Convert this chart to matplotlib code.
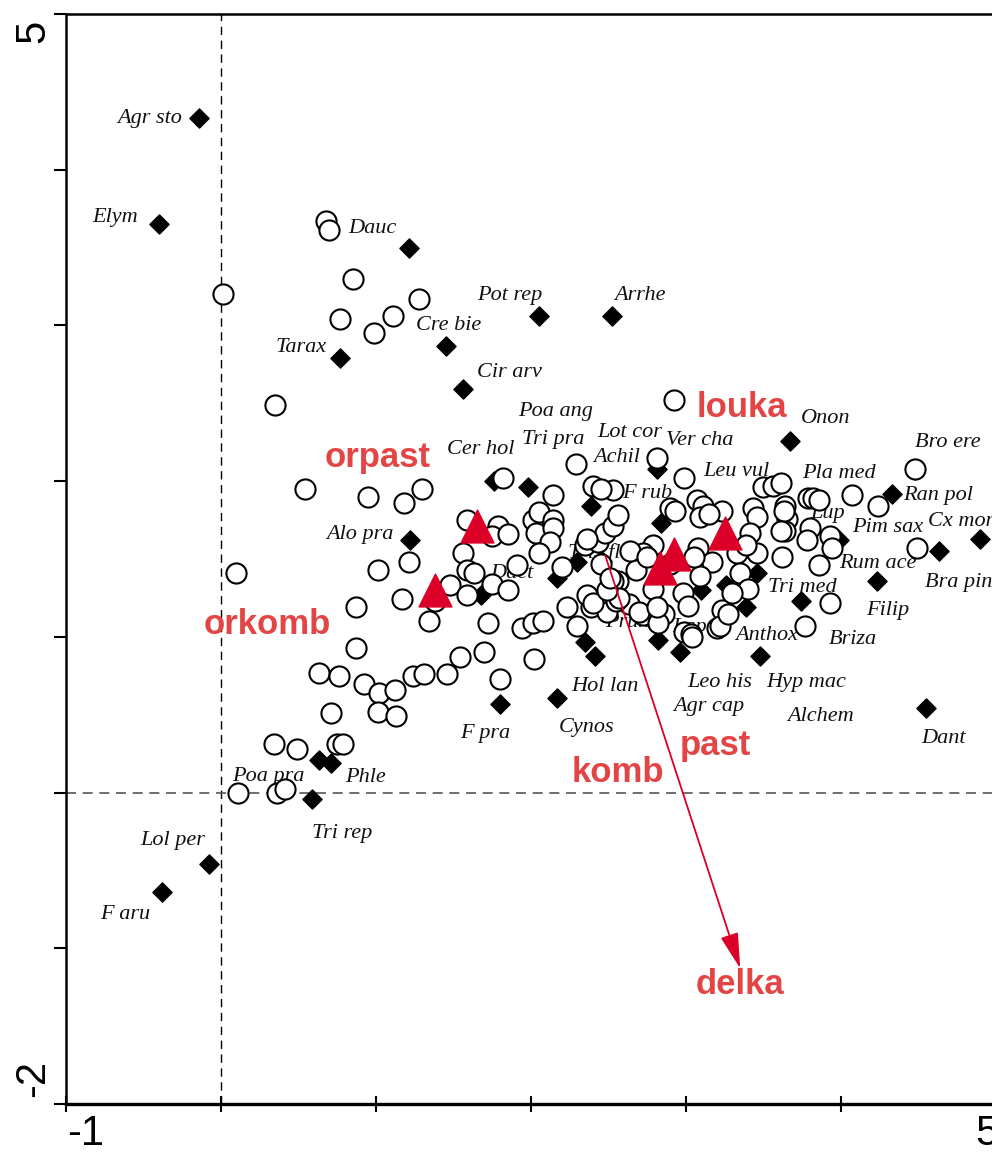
import matplotlib
matplotlib.use('Agg')
import matplotlib.pyplot as plt

# Sites (open circles)
site_x = [0.68, 0.70, 0.01, 0.85, 1.28, 0.77, 1.11, 0.99, 0.35, 2.92,
          0.54, 0.95, 1.18, 1.30, 1.82, 2.29, 2.81, 4.48, 0.10, 2.99,
          1.01, 1.21, 0.87, 1.17, 1.34, 0.87, 0.63, 0.76, 0.92, 1.02,
          1.12, 1.24, 1.31, 0.71, 1.01, 1.13, 0.34, 0.49, 0.75, 0.79,
          0.11, 0.36, 0.41, 1.46, 1.54, 1.70, 1.80, 1.94, 2.01, 2.08,
          2.02, 2.23, 2.30, 2.39, 2.49, 2.63, 2.72, 2.86, 2.99, 3.03,
          3.20, 2.14, 2.40, 2.53, 1.59, 1.79, 1.75, 1.85, 2.01, 2.05,
          2.14, 2.03, 2.14, 2.12, 2.05, 1.56, 1.59, 1.63, 1.91, 2.20,
          2.35, 2.43, 2.48, 2.53, 2.56, 1.48, 1.59, 1.75, 1.85, 1.38,
          1.72, 2.36, 2.40, 2.56, 2.55, 2.90, 3.07, 3.11, 3.09, 3.23,
          3.43, 3.46, 3.50, 3.56, 3.64, 3.65, 3.64, 3.41, 3.46, 3.62,
          3.33, 3.08, 3.17, 3.09, 2.79, 2.72, 2.68, 2.45, 2.53, 2.57,
          2.49, 2.79, 2.98, 3.01, 2.70, 2.82, 3.35, 3.40, 3.23, 3.22,
          3.27, 3.61, 3.79, 3.82, 3.86, 4.07, 4.24, 3.63, 3.61, 3.80,
          3.78, 3.93, 3.94, 3.86, 4.49, 3.93, 3.77, 2.81, 3.04, 2.64,
          2.75, 2.51, 2.90, 3.05, 3.30, 2.93, 3.15, 3.39, 2.36, 2.45]
site_y = [3.67, 3.61, 3.20, 3.30, 3.17, 3.04, 3.06, 2.95, 2.49, 2.52,
          1.95, 1.90, 1.86, 1.95, 2.02, 2.11, 2.15, 2.08, 1.41, 2.02,
          1.43, 1.48, 1.19, 1.24, 1.10, 0.93, 0.77, 0.75, 0.70, 0.64,
          0.66, 0.75, 0.76, 0.51, 0.52, 0.49, 0.31, 0.28, 0.31, 0.31,
          0.00, 0.00, 0.02, 0.76, 0.87, 0.90, 0.73, 1.06, 1.09, 1.10,
          0.86, 1.19, 1.07, 1.19, 1.16, 1.21, 1.14, 1.15, 1.03, 1.02,
          1.06, 1.91, 1.97, 1.94, 1.75, 1.71, 1.65, 1.66, 1.75, 1.80,
          1.75, 1.67, 1.70, 1.61, 1.54, 1.54, 1.43, 1.41, 1.46, 1.45,
          1.59, 1.61, 1.67, 1.71, 1.78, 1.33, 1.27, 1.34, 1.30, 1.23,
          1.09, 1.27, 1.22, 1.36, 1.23, 1.83, 1.88, 1.84, 1.77, 1.81,
          1.83, 1.77, 1.96, 1.97, 1.84, 1.76, 1.68, 1.67, 1.54, 1.51,
          1.54, 1.57, 1.48, 1.39, 1.59, 1.54, 1.43, 1.47, 1.36, 1.25,
          1.30, 1.31, 1.28, 1.20, 1.16, 1.09, 1.41, 1.31, 1.17, 1.07,
          1.15, 1.99, 1.89, 1.89, 1.88, 1.91, 1.84, 1.81, 1.68, 1.70,
          1.62, 1.65, 1.57, 1.46, 1.57, 1.22, 1.07, 1.19, 1.00, 1.55,
          1.51, 1.38, 1.47, 1.51, 1.28, 1.81, 1.79, 1.59, 1.63, 1.95]

# Species (black diamonds)
sp_x = [-0.14, -0.40, 1.21, 0.77, 1.45, 2.05, 2.52, 1.56, 1.76, 1.98,
        2.81, 3.67, 2.39, 2.84, 3.10, 4.33, 4.48, 4.90, 4.63, 3.83,
        3.99, 4.23, 3.74, 1.22, 1.68, 2.46, 2.30, 2.17, 3.46, 3.26,
        3.39, 2.35, 2.41, 2.82, 2.96, 3.48, 4.55, 2.17, 1.80, 0.63,
        0.71, 0.59, -0.08, -0.38]
sp_y = [4.33, 3.65, 3.50, 2.79, 2.87, 3.06, 3.06, 2.59, 2.00, 1.96,
        2.08, 2.26, 1.84, 1.73, 1.30, 1.92, 2.07, 1.63, 1.55, 1.88,
        1.62, 1.36, 1.23, 1.62, 1.27, 1.49, 1.48, 1.38, 1.41, 1.33,
        1.19, 0.97, 0.88, 0.98, 0.90, 0.88, 0.54, 0.61, 0.57, 0.21,
        0.19, -0.04, -0.46, -0.64]

# Species names and where they are written
sp_names = ['Agr sto', 'Elym', 'Dauc', 'Tarax', 'Cre bie', 'Pot rep', 'Arrhe',
            'Cir arv', 'Poa ang', 'Tri pra', 'Lot cor', 'Ver cha', 'Cer hol',
            'Achil', 'Onon', 'Bro ere', 'Leu vul', 'Pla med', 'F rub', 'Ran pol',
            'Pim sax', 'Cx mon', 'Alo pra', 'Rum ace', 'Bra pin', 'Dact',
            'Tris fla', 'Tri med', 'Filip', 'Prun', 'Lap', 'Lup', 'Anthox',
            'Briza', 'Leo his', 'Hyp mac', 'Hol lan', 'Agr cap', 'Alchem',
            'Cynos', 'F pra', 'Dant', 'Poa pra', 'Phle', 'Tri rep', 'Lol per',
            'F aru']
lab_x = [-0.67, -0.83, 0.82, 0.35, 1.26, 1.65, 2.54, 1.65, 1.92, 1.94,
         2.43, 2.87, 1.46, 2.40, 3.74, 4.48, 3.11, 3.75, 2.59, 4.40,
         4.07, 4.56, 0.68, 3.99, 4.54, 1.74, 2.24, 3.53, 4.16, 2.48,
         2.91, 3.80, 3.32, 3.92, 3.01, 3.52, 2.26, 2.92, 3.65, 2.18,
         1.54, 4.52, 0.07, 0.80, 0.59, -0.52, -0.78]
lab_y = [4.33, 3.69, 3.62, 2.86, 3.00, 3.19, 3.19, 2.70, 2.45, 2.27,
         2.31, 2.26, 2.20, 2.15, 2.40, 2.25, 2.06, 2.05, 1.92, 1.91,
         1.70, 1.74, 1.66, 1.47, 1.35, 1.41, 1.54, 1.32, 1.17, 1.09,
         1.06, 1.79, 1.01, 0.98, 0.71, 0.71, 0.68, 0.55, 0.49, 0.42,
         0.38, 0.35, 0.10, 0.10, -0.26, -0.31, -0.78]

# Centroids of the nominal variables (red triangles) and their names
cen_x = [1.65, 1.38, 3.25, 2.92, 2.83]
cen_y = [1.71, 1.30, 1.67, 1.53, 1.44]
cen_names = ['orpast', 'orkomb', 'louka', 'past', 'komb', 'delka']
cen_lab_x = [0.67, -0.11, 3.07, 2.96, 2.26, 3.06]
cen_lab_y = [2.15, 1.08, 2.47, 0.30, 0.13, -1.23]

# Quantitative variable (arrow)
arrow_start = (2.48, 1.52)
arrow_end = (3.35, -1.13)

red = '#dc0028'
red_txt = '#e34545'

fig = plt.figure(figsize=(9.92, 11.54), dpi=100)
ax = fig.add_axes([66 / 992, 50 / 1154, 930 / 992, 1090 / 1154])
ax.set_xlim(-1, 5)
ax.set_ylim(-2, 5)

ax.axvline(0, color='black', lw=1, ls=(0, (6, 4)), zorder=0)
ax.axhline(0, color='#555555', lw=1.2, ls=(0, (6, 4)), zorder=0)

ax.scatter(sp_x, sp_y, marker='D', s=95, color='black', zorder=2)
for name, lx, ly in zip(sp_names, lab_x, lab_y):
    ax.text(lx, ly, name, fontsize=16, family='Liberation Serif', style='italic',
            color='#111111', ha='left', va='center', zorder=3)

ax.scatter(site_x, site_y, marker='o', s=210, facecolor='white',
           edgecolor='black', linewidths=1.5, zorder=4)
ax.scatter(cen_x, cen_y, marker='^', s=560, color=red, zorder=5)

ax.annotate('', xy=arrow_end, xytext=arrow_start,
            arrowprops=dict(arrowstyle='-|>,head_length=1.1,head_width=0.28',
                            color=red, lw=1.3, mutation_scale=20,
                            shrinkA=0, shrinkB=0), zorder=6)

for name, lx, ly in zip(cen_names, cen_lab_x, cen_lab_y):
    ax.text(lx, ly, name, fontsize=25, family='Liberation Sans', weight='bold',
            color=red_txt, ha='left', va='center', zorder=7)

# axes look
ax.set_xticks(range(-1, 6))
ax.set_yticks(range(-2, 6))
ax.set_xticklabels([])
ax.set_yticklabels([])
ax.tick_params(axis='x', direction='inout', length=12, width=1.5)
ax.tick_params(axis='y', direction='out', length=9, width=1.5)
for s in ax.spines.values():
    s.set_linewidth(1.8)
ax.spines['bottom'].set_linewidth(2.4)

tick_font = dict(fontsize=30, family='Liberation Sans', color='black')
fig.text(86 / 992, 1 - 1134 / 1154, '-1', ha='center', va='center', **tick_font)
fig.text(987 / 992, 1 - 1134 / 1154, '5', ha='center', va='center', **tick_font)
fig.text(33 / 992, 1 - 31 / 1154, '5', ha='center', va='center', rotation=90, **tick_font)
fig.text(33 / 992, 1 - 1078 / 1154, '-2', ha='center', va='center', rotation=90, **tick_font)

fig.savefig('out.png', dpi=100)
